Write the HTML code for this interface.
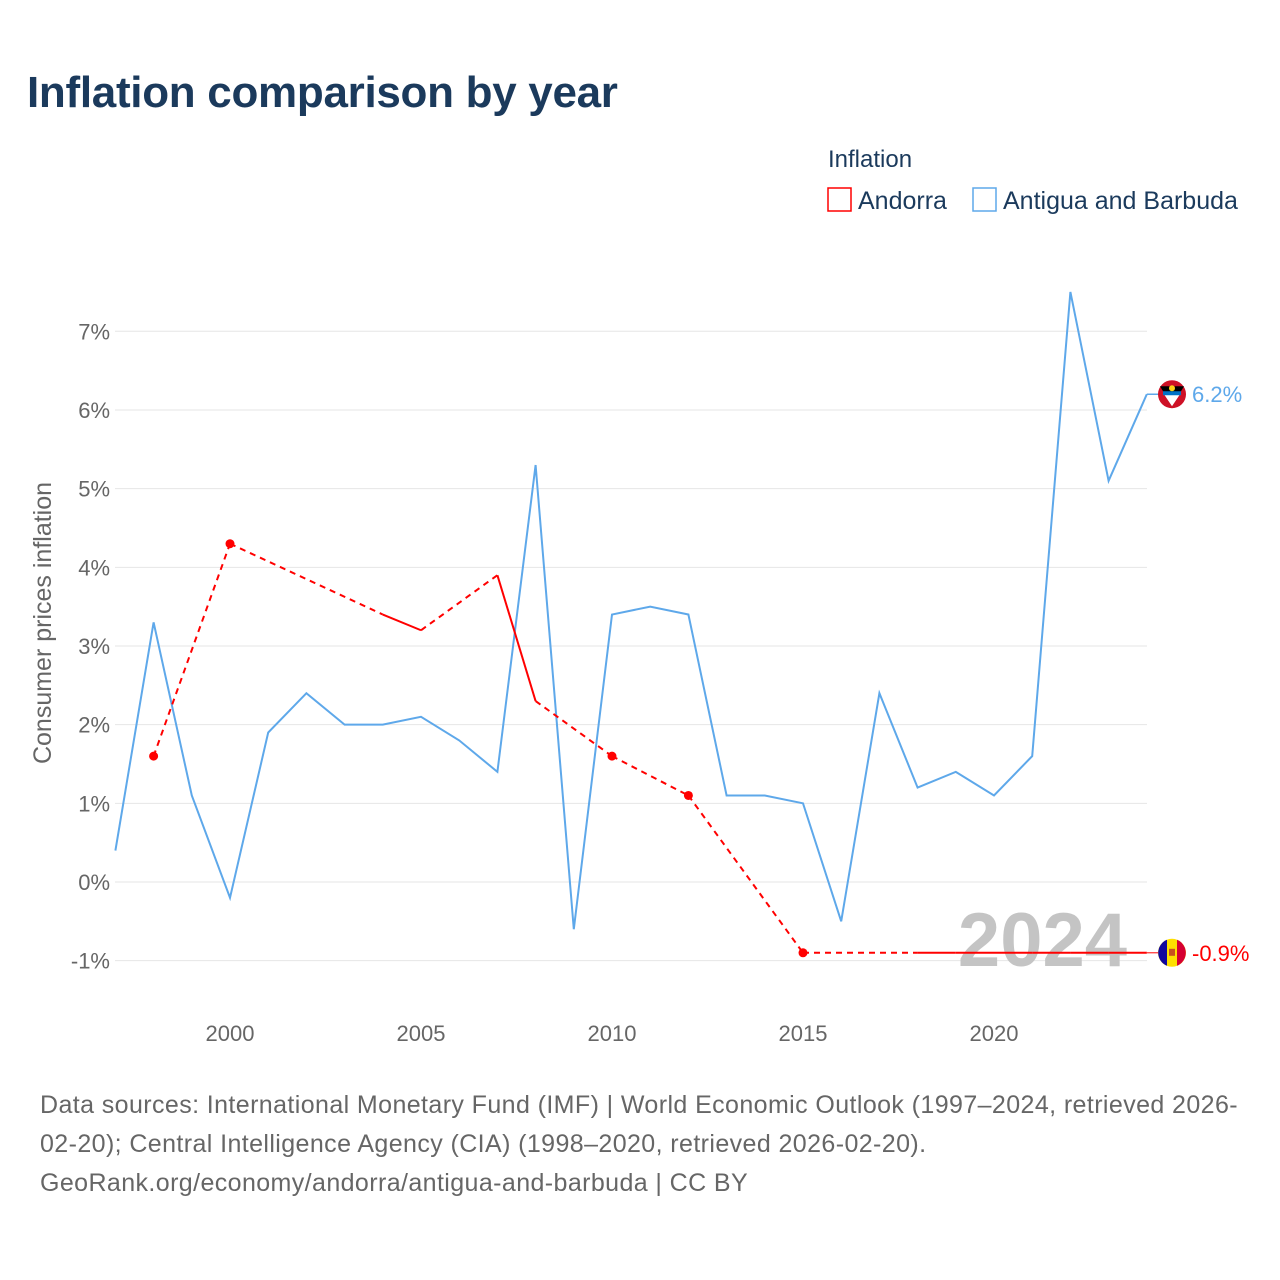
<!DOCTYPE html>
<html><head><meta charset="utf-8">
<style>
body{margin:0;background:#fff;width:1280px;height:1280px;overflow:hidden;font-family:"Liberation Sans",sans-serif}
h1{position:absolute;left:27px;top:68px;margin:0;font-size:44px;font-weight:bold;color:#1b3a5c;letter-spacing:-0.3px}
.foot{position:absolute;left:40px;top:1086px;width:1230px;font-size:25px;letter-spacing:0.4px;line-height:39px;color:#666;white-space:nowrap}
</style></head><body>
<h1>Inflation comparison by year</h1>
<svg id="c" width="1280" height="1280" style="position:absolute;left:0;top:0"></svg>
<div class="foot">Data sources: International Monetary Fund (IMF) | World Economic Outlook (1997–2024, retrieved 2026-<br>02-20); Central Intelligence Agency (CIA) (1998–2020, retrieved 2026-02-20).<br>GeoRank.org/economy/andorra/antigua-and-barbuda | CC BY</div>
<script>
const years=[1997,1998,1999,2000,2001,2002,2003,2004,2005,2006,2007,2008,2009,2010,2011,2012,2013,2014,2015,2016,2017,2018,2019,2020,2021,2022,2023,2024];
const antigua=[0.4,3.3,1.1,-0.2,1.9,2.4,2.0,2.0,2.1,1.8,1.4,5.3,-0.6,3.4,3.5,3.4,1.1,1.1,1.0,-0.5,2.4,1.2,1.4,1.1,1.6,7.5,5.1,6.2];
const andorra=[null,1.6,null,4.3,null,null,null,3.4,3.2,null,3.9,2.3,null,1.6,null,1.1,null,null,-0.9,null,null,-0.9,-0.9,-0.9,-0.9,-0.9,-0.9,-0.9];
const yTicks=[-1,0,1,2,3,4,5,6,7];
const xTicks=[2000,2005,2010,2015,2020];
const X=y=>230+(y-2000)*38.2, Y=v=>882-v*78.67;
const s=document.getElementById('c');const NS='http://www.w3.org/2000/svg';
function el(t,a,txt){const e=document.createElementNS(NS,t);for(const k in a)e.setAttribute(k,a[k]);if(txt!==undefined)e.textContent=txt;s.appendChild(e);return e;}
yTicks.forEach(v=>{
 const g=el('line',{x1:115,x2:1147,y1:Y(v),y2:Y(v),stroke:'#e6e6e6','stroke-width':1});
 
 
 const t=el('text',{x:110,y:Y(v)+8,'text-anchor':'end','font-size':22,fill:'#666'},v+'%');
 
 
});
xTicks.forEach(v=>{
 const t=el('text',{x:X(v),y:1041,'text-anchor':'middle','font-size':22,fill:'#666'},v);
 
 
});
const yt=el('text',{x:0,y:0,transform:'translate(51,623) rotate(-90)','text-anchor':'middle','font-size':25,fill:'#666'},'Consumer prices inflation');


const wm=el('text',{x:1127,y:966,'text-anchor':'end','font-size':76,'font-weight':'bold',fill:'#c4c4c4'},'2024');


const ap=el('polyline',{points:years.map((y,i)=>X(y)+','+Y(antigua[i])).join(' '),fill:'none',stroke:'#5ea8ea','stroke-width':2});


const idx=andorra.map((v,i)=>v===null?-1:i).filter(i=>i>=0);
for(let k=0;k<idx.length-1;k++){const a=idx[k],b=idx[k+1];
 const l=el('line',{x1:X(years[a]),y1:Y(andorra[a]),x2:X(years[b]),y2:Y(andorra[b]),stroke:'#f00','stroke-width':2,'stroke-dasharray':b-a>1?'6,5':'none'});
 
 }
idx.forEach((i,k)=>{const prev=k>0&&idx[k-1]===i-1,next=k<idx.length-1&&idx[k+1]===i+1;
 if(!prev&&!next){const c=el('circle',{cx:X(years[i]),cy:Y(andorra[i]),r:4.5,fill:'#f00'});
 
 }});
const lastA=antigua[antigua.length-1],lastD=andorra[andorra.length-1];
el('line',{x1:X(2024),x2:1160,y1:Y(lastA),y2:Y(lastA),stroke:'#5ea8ea','stroke-width':1.5});
el('line',{x1:X(2024),x2:1160,y1:Y(lastD),y2:Y(lastD),stroke:'#f00','stroke-width':1});
const fa=el('circle',{cx:1172,cy:Y(lastA),r:14,fill:'#ce1126'});


el('path',{d:`M1160 ${Y(lastA)-8} L1184 ${Y(lastA)-8} L1172 ${Y(lastA)+12} Z`,fill:'#000'});
el('path',{d:`M1164 ${Y(lastA)} L1180 ${Y(lastA)} L1172 ${Y(lastA)+12} Z`,fill:'#fff'});
el('rect',{x:1163,y:Y(lastA)-3,width:18,height:4,fill:'#0072c6'});
el('circle',{cx:1172,cy:Y(lastA)-6,r:3,fill:'#fcd116'});
const fd=el('circle',{cx:1172,cy:Y(lastD),r:14,fill:'#fedf00'});


el('path',{d:`M1167 ${Y(lastD)-13} A14 14 0 0 0 1167 ${Y(lastD)+13} Z`,fill:'#10069f'});
el('path',{d:`M1177 ${Y(lastD)-13} A14 14 0 0 1 1177 ${Y(lastD)+13} Z`,fill:'#d50032'});
el('rect',{x:1169,y:Y(lastD)-4,width:6,height:7,fill:'#c7511f'});
const la=el('text',{x:1192,y:Y(lastA)+8,'font-size':22,fill:'#5ea8ea'},lastA+'%');


const ld=el('text',{x:1192,y:Y(lastD)+8,'font-size':22,fill:'#f00'},lastD+'%');


const lt=el('text',{x:828,y:167,'font-size':24,fill:'#1b3a5c'},'Inflation');


const b1=el('rect',{x:828,y:188,width:23,height:23,fill:'none',stroke:'#f00','stroke-width':1.5});


el('text',{x:858,y:209,'font-size':25,fill:'#1b3a5c'},'Andorra');
const b2=el('rect',{x:973,y:188,width:23,height:23,fill:'none',stroke:'#5ea8ea','stroke-width':1.5});


el('text',{x:1003,y:209,'font-size':25,fill:'#1b3a5c'},'Antigua and Barbuda');
</script>
</body></html>
